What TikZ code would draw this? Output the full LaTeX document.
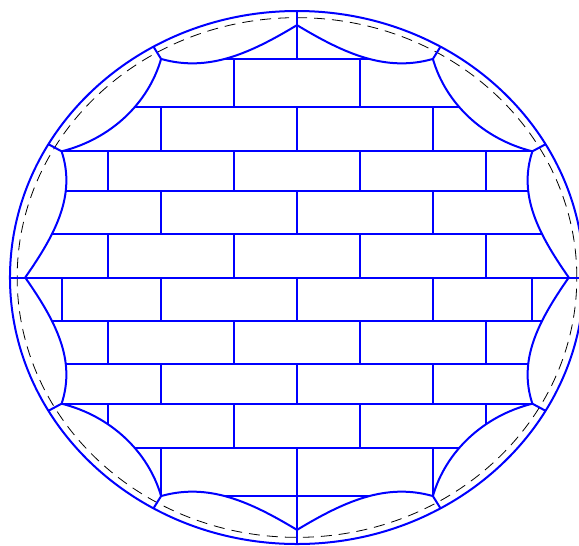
\documentclass[tikz,border=0pt]{standalone}
\usepackage{tikz}
\tikzset{
  joint/.style={draw=blue, line width=2pt},
  guide/.style={draw=black, line width=0.8pt, dash pattern=on 11pt off 7pt}
}
% start angle / out angle / in angle / out length / in length of each lens
\def\lenses{0/123/253/0.2/0.17, 30/135/255/0.175/0.175, 60/137/267/0.17/0.2,
  90/123/253/0.2/0.17, 120/135/255/0.175/0.175, 150/137/267/0.17/0.2,
  180/123/253/0.2/0.17, 210/135/255/0.175/0.175, 240/137/267/0.17/0.2,
  270/123/253/0.2/0.17, 300/135/255/0.175/0.175, 330/137/267/0.17/0.2}
\begin{document}
\begin{tikzpicture}[x=287pt, y=266.5pt]
\useasboundingbox (-1.0348,-1.0038) rectangle (0.9826,1.0413);
\clip (-1.0348,-1.0038) rectangle (0.9826,1.0413);

% Lens corners, inner ring and rim
\foreach \a in {0,30,...,360} {
  \coordinate (v\a) at (\a:0.947);
  \coordinate (o\a) at (\a:1);
}

% Bricks, cut off by the lenses
\begin{scope}
\clip (v0) \foreach \a/\o/\i/\lo/\li [evaluate=\a as \b using int(\a+30)] in \lenses {
  .. controls +({\a+\o}:\lo) and +({\a+\i}:\li) .. (v\b)};
\foreach \y in {-0.82,-0.64,-0.4735,-0.325,-0.163,0.163,0.325,0.4735,0.64,0.82}
  \draw[joint] (-1,\y) -- (1,\y);
\foreach \ylo/\yhi in {0.325/0.4735, 0/0.163, -0.325/-0.163, -0.64/-0.4735}
  \foreach \x in {-0.66,-0.22,0.22,0.66}
    \draw[joint] (\x,\ylo) -- (\x,\yhi);
\foreach \ylo/\yhi in {0.4735/0.64, 0.163/0.325, -0.4735/-0.325, -0.82/-0.64}
  \foreach \x in {-0.4735,0,0.4735}
    \draw[joint] (\x,\ylo) -- (\x,\yhi);
\foreach \x in {-0.22,0.22}
  \draw[joint] (\x,0.64) -- (\x,0.82);
\foreach \x in {-0.82,-0.4735,0,0.4735,0.82}
  \draw[joint] (\x,-0.163) -- (\x,0);
\end{scope}

% Dashed ring
\draw[guide] (0,0) circle (0.975);

% Axes
\draw[joint] (o180) -- (o0);
\draw[joint] (o90) -- (0,0.82);
\draw[joint] (o270) -- (0,-0.82);

% Lenses
\draw[joint] (0,0) circle (1);
\draw[joint] (v0) \foreach \a/\o/\i/\lo/\li [evaluate=\a as \b using int(\a+30)] in \lenses {
  .. controls +({\a+\o}:\lo) and +({\a+\i}:\li) .. (v\b)};
\foreach \a in {30,60,120,150,210,240,300,330}
  \draw[joint] (v\a) -- (o\a);
\end{tikzpicture}
\end{document}
